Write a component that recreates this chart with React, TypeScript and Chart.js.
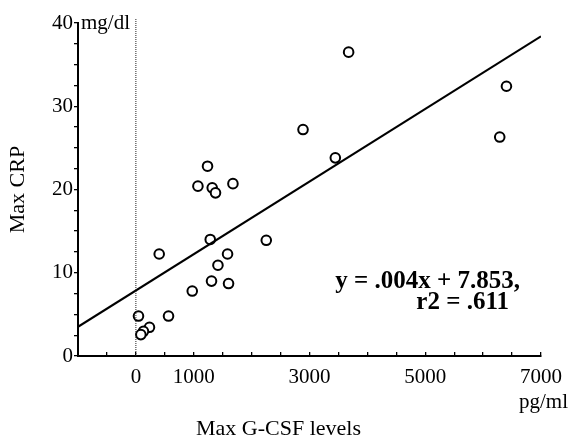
import React, { useEffect, useRef } from "react";
import { Chart, registerables } from "chart.js";

Chart.register(...registerables);

// Max G-CSF levels (pg/ml) and Max CRP (mg/dl) per patient
const gcsfValues = [1238, 1072, 1319, 1376, 1677, 1285, 2253, 403, 1584, 1418, 1307, 1601, 974, 45, 564, 235, 131, 86, 3676, 2888, 3446, 6403, 6287];
const crpValues = [22.8, 20.4, 20.2, 19.6, 20.7, 14.0, 13.9, 12.25, 12.25, 10.9, 9.0, 8.7, 7.8, 4.8, 4.8, 3.45, 2.97, 2.57, 36.5, 27.2, 23.8, 32.4, 26.3];

// regression line end points
const fitX = [-1000, 7000];
const fitY = [3.5, 38.4];

// vertical dotted reference line at x = 0
const zeroLineX = [0, 0];
const zeroLineY = [0, 40.5];

const xLabeledTicks = [0, 1000, 3000, 5000, 7000];
const yLabeledTicks = [0, 10, 20, 30, 40];

const equationLine1 = "y = .004x + 7.853,";
const equationLine2 = "r2 = .611";
const yUnit = "mg/dl";
const xUnit = "pg/ml";
const xTitle = "Max G-CSF levels";
const yTitle = "Max CRP";

const SERIF = "'Liberation Serif', 'Times New Roman', serif";

export default function App() {
  const ref = useRef<HTMLCanvasElement | null>(null);

  useEffect(() => {
    if (!ref.current) return;
    const textPlugin = {
      id: "texts",
      afterDraw(chart: any) {
        const ctx = chart.ctx;
        const a = chart.chartArea;
        const ys = chart.scales.y;
        ctx.save();
        ctx.fillStyle = "#000";
        ctx.font = `21px ${SERIF}`;
        ctx.textBaseline = "middle";
        ctx.textAlign = "left";
        ctx.fillText(yUnit, a.left + 3, ys.getPixelForValue(40));
        ctx.textAlign = "right";
        ctx.fillText(xUnit, a.right + 27, 402);
        ctx.font = `22px ${SERIF}`;
        ctx.textAlign = "center";
        ctx.fillText(xTitle, (a.left + a.right) / 2 - 31, 429);
        ctx.save();
        ctx.translate(18, (a.top + a.bottom) / 2);
        ctx.rotate(-Math.PI / 2);
        ctx.fillText(yTitle, 0, 0);
        ctx.restore();
        ctx.font = `bold 25px ${SERIF}`;
        ctx.textAlign = "right";
        ctx.fillText(equationLine1, a.right - 21, a.bottom - 74);
        ctx.fillText(equationLine2, a.right - 32, a.bottom - 53);
        ctx.restore();
      },
    };

    const chart = new Chart(ref.current, {
      type: "scatter",
      data: {
        datasets: [
          {
            label: "zero",
            type: "line",
            data: zeroLineX.map((x, i) => ({ x, y: zeroLineY[i] })),
            borderColor: "#222",
            borderWidth: 1,
            borderDash: [1, 1],
            pointRadius: 0,
            showLine: true,
            fill: false,
            clip: false,
          } as any,
          {
            label: "fit",
            type: "line",
            data: fitX.map((x, i) => ({ x, y: fitY[i] })),
            borderColor: "#000",
            borderWidth: 2.2,
            pointRadius: 0,
            showLine: true,
            fill: false,
          } as any,
          {
            label: "patients",
            data: gcsfValues.map((x, i) => ({ x, y: crpValues[i] })),
            pointRadius: 4.8,
            pointBorderWidth: 2,
            borderColor: "#000",
            backgroundColor: "#fff",
            pointBackgroundColor: "#fff",
          },
        ],
      },
      options: {
        animation: false,
        responsive: false,
        events: [],
        layout: { padding: { left: 0, top: 23, right: 31, bottom: 0 } },
        plugins: { legend: { display: false }, tooltip: { enabled: false } },
        scales: {
          x: {
            type: "linear",
            min: -1000,
            max: 7000,
            afterFit: (s: any) => {
              s.height = 85;
              s.paddingRight = 0;
              s.paddingLeft = 0;
            },
            border: { display: true, color: "#000", width: 2 },
            grid: { drawOnChartArea: false, drawTicks: true, tickLength: -4, color: "#000", lineWidth: 1.3 },
            ticks: {
              stepSize: 500,
              autoSkip: false,
              maxRotation: 0,
              padding: 13,
              color: "#000",
              font: { family: SERIF, size: 21 },
              callback: (v: any) => (xLabeledTicks.includes(Number(v)) ? String(v) : ""),
            },
          },
          y: {
            type: "linear",
            min: 0,
            max: 40,
            afterFit: (s: any) => {
              s.width = 78;
              s.paddingTop = 0;
              s.paddingBottom = 0;
            },
            border: { display: true, color: "#000", width: 2 },
            grid: { drawOnChartArea: false, drawTicks: true, tickLength: 4, color: "#000", lineWidth: 1.3 },
            ticks: {
              stepSize: 2.5,
              autoSkip: false,
              padding: 1,
              color: "#000",
              font: { family: SERIF, size: 21 },
              callback: (v: any) => (yLabeledTicks.includes(Number(v)) ? String(v) : ""),
            },
          },
        },
      },
      plugins: [textPlugin],
    });
    return () => chart.destroy();
  }, []);

  return (
    <div style={{ position: "fixed", left: 0, top: 0, width: 572, height: 441, background: "#fff" }}>
      <canvas ref={ref} width={572} height={441} />
    </div>
  );
}
